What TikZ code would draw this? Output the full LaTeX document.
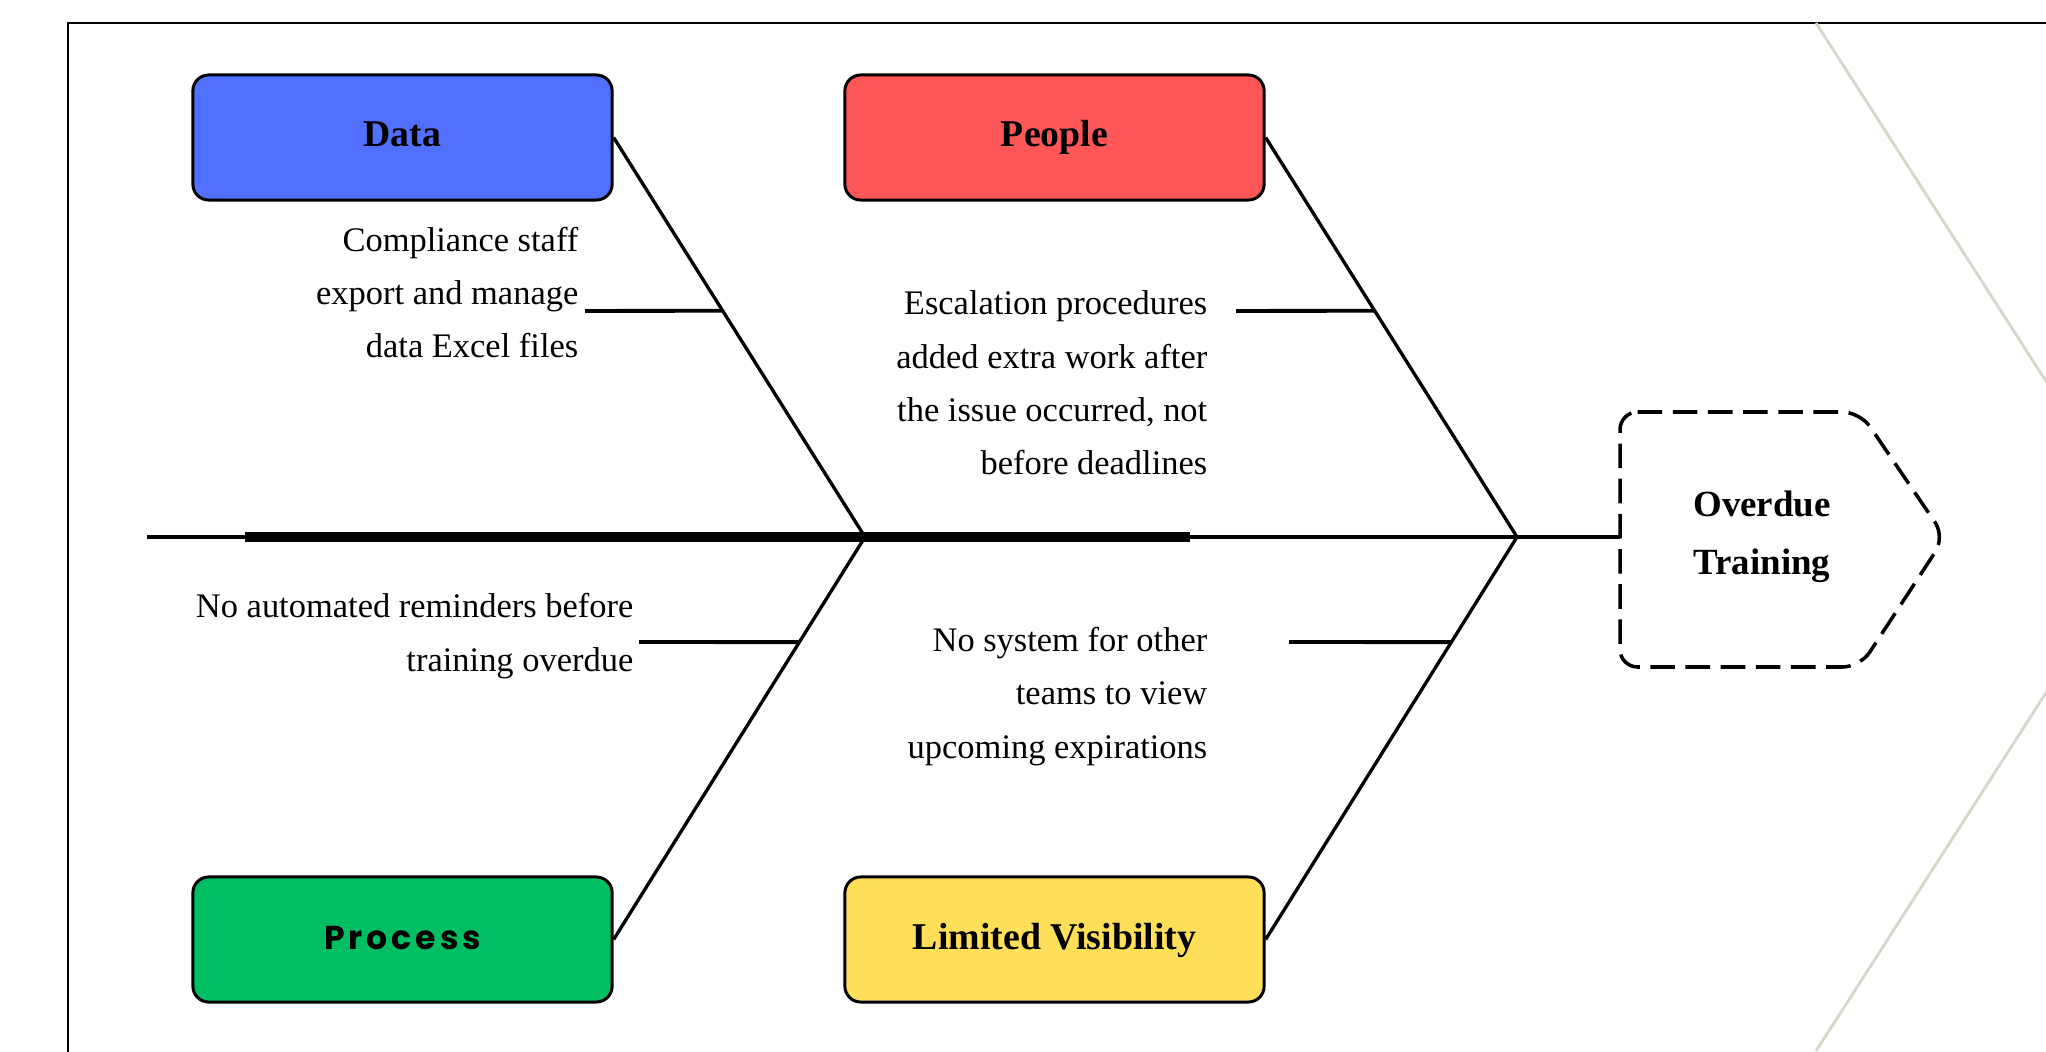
\documentclass[tikz,border=0pt]{standalone}
\usepackage{fontspec}
\setmainfont{Liberation Serif}
\newfontfamily\popfont{Poppins}[LetterSpace=12]
\usetikzlibrary{calc}

\definecolor{dataBlue}{HTML}{5170FF}
\definecolor{peopleRed}{HTML}{FF5757}
\definecolor{processGreen}{HTML}{00BF63}
\definecolor{visYellow}{HTML}{FFDE59}
\definecolor{chevronGray}{HTML}{D9D5CB}

\begin{document}
\begin{tikzpicture}[x=0.01cm, y=-0.01cm,
  cause/.style={draw=black, line width=0.85pt, rounded corners=4.5pt,
    minimum width=4.19cm, minimum height=1.25cm, inner sep=0pt,
    text height=7.5pt, text depth=2.1pt,
    font=\fontsize{10.75}{12}\selectfont\bfseries},
  bone/.style={line width=0.95pt, black},
  twig/.style={line width=1.1pt, black},
  note/.style={align=right, inner sep=0pt, anchor=base east,
    font=\fontsize{9.8}{15.2}\selectfont},
]
\useasboundingbox (0,0) rectangle (2046,1052);

% page frame and background chevron
\draw[line width=0.6pt, black] (68,1060) -- (68,23) -- (2060,23);
\draw[line width=0.8pt, chevronGray] (1816,23) -- (2146,537) -- (1816,1051);

% category boxes
\node[cause, fill=dataBlue]     (data)    at (402.5,137.5) {Data};
\node[cause, fill=peopleRed]    (people)  at (1054.5,137.5) {People};
\node[cause, fill=processGreen] (process) at (402.5,939.5)
  {\fontsize{9.4}{11}\popfont\bfseries Process};
\node[cause, fill=visYellow]    (vis)     at (1054.5,939.5) {Limited Visibility};

% spine
\coordinate (tail)   at (147,537);
\coordinate (thickL) at (245,537);
\coordinate (thickR) at (1190,537);
\coordinate (j1)     at (865,537);
\coordinate (j2)     at (1517,537);
\coordinate (ow)     at (1620,537);
\draw[line width=1pt] (tail) -- (ow);
\draw[line width=3.1pt] (thickL) -- (thickR);

% effect box
\draw[line width=1pt, dash pattern=on 7pt off 3pt, rounded corners=5pt]
  (1620,412) -- (1860,412) -- (1945,537) -- (1860,667) -- (1620,667) -- cycle;
\node[align=center, inner sep=0pt, font=\fontsize{10.5}{16.5}\selectfont\bfseries]
  (effect) at (1762,537) {Overdue\\Training};

% main bones
\draw[bone] (data.east) -- (j1);
\draw[bone] (process.east) -- (j1);
\draw[bone] (people.east) -- (j2);
\draw[bone] (vis.east) -- (j2);

% sub-causes
\coordinate (dt)  at ($(data.east)!0.4336!(j1)$);
\coordinate (pt)  at ($(people.east)!0.4336!(j2)$);
\coordinate (prt) at ($(process.east)!0.7388!(j1)$);
\coordinate (vt)  at ($(vis.east)!0.7388!(j2)$);
\coordinate (dtl)  at (585,311);
\coordinate (ptl)  at (1236,311);
\coordinate (prtl) at (639,642);
\coordinate (vtl)  at (1289,642);
\draw[twig] (dtl) -- (dt);
\draw[twig] (ptl) -- (pt);
\draw[twig] (prtl) -- (prt);
\draw[twig] (vtl) -- (vt);

% labels, anchored at the baseline of their last line
\node[note] (dnote)  at (579,358)  {Compliance staff\\export and manage\\data Excel files};
\node[note] (pnote)  at (1208,475) {Escalation procedures\\added extra work after\\the issue occurred, not\\before deadlines};
\node[note] (prnote) at (634,671)  {No automated reminders before\\training overdue};
\node[note] (vnote)  at (1208,758) {No system for other\\teams to view\\upcoming expirations};
\end{tikzpicture}
\end{document}
